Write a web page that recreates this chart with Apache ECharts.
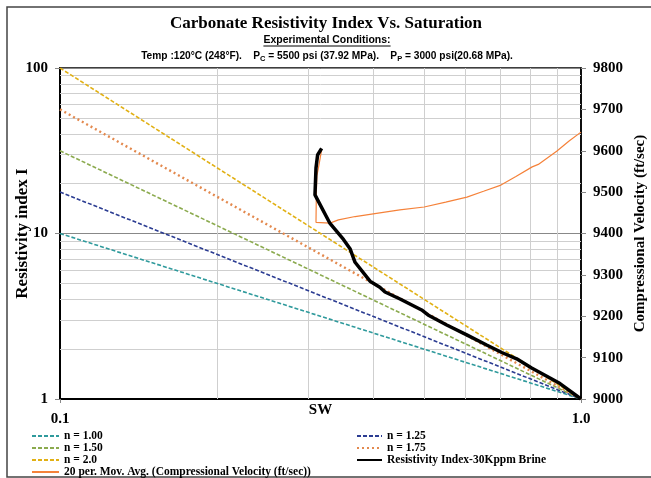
<!DOCTYPE html>
<html>
<head>
<meta charset="utf-8">
<script src="https://cdn.jsdelivr.net/npm/echarts@6/dist/echarts.min.js"></script>
<style>html,body{margin:0;padding:0;background:#fff}#c{width:651px;height:478px}</style>
</head>
<body>
<div id="c"></div>
<script>
// ---- data ----
var swEnds = [0.1, 1.0];
var n100 = [10, 1];
var n125 = [17.8, 1];
var n150 = [31.6, 1];
var n175 = [56.2, 1];
var n200 = [100, 1];
var riSw = [0.3178, 0.3122, 0.3100, 0.3086, 0.3298, 0.350, 0.3603, 0.3684, 0.3936, 0.411, 0.4206, 0.4494, 0.4945, 0.5085, 0.5524, 0.6035, 0.659, 0.7046, 0.7525, 0.804, 0.872, 0.9113, 1.0];
var riI  = [32.7, 29.8, 24.9, 17.1, 11.5, 9.2, 8.1, 6.7, 5.15, 4.74, 4.43, 4.02, 3.45, 3.22, 2.80, 2.44, 2.12, 1.91, 1.75, 1.54, 1.34, 1.24, 1.0];
var velSw = [1.0, 0.95, 0.898, 0.828, 0.806, 0.75, 0.702, 0.65, 0.604, 0.55, 0.5, 0.449, 0.411, 0.3685, 0.3423, 0.3298, 0.31, 0.3105, 0.3112, 0.3133, 0.3178];
var velV  = [9645, 9624, 9599, 9567, 9561, 9538, 9517, 9502, 9488, 9476, 9464, 9457, 9450, 9441, 9433, 9425, 9427, 9501, 9540, 9558, 9602];
var xGrid = [0.2, 0.3, 0.4, 0.5, 0.6, 0.7, 0.8, 0.9];
var yGrid = [2, 3, 4, 5, 6, 7, 8, 9, 20, 30, 40, 50, 60, 70, 80, 90];
var velTicks = [9000, 9800, 100];

function zip(a, b) { return a.map(function (v, i) { return [v, b[i]]; }); }

var serif = 'Liberation Serif';
var chart = echarts.init(document.getElementById('c'));

var mk = [];
xGrid.forEach(function (v) { mk.push({ xAxis: v }); });
yGrid.forEach(function (v) { mk.push({ yAxis: v }); });

function nLine(name, ys, color, dash, width) {
  return {
    name: name, type: 'line', data: zip(swEnds, ys), symbol: 'none', z: 3,
    lineStyle: { color: color, width: width || 1.6, type: dash, cap: 'butt' },
    itemStyle: { color: color }
  };
}

var legendText = { fontFamily: serif, fontWeight: 'bold', fontSize: 11.5, color: '#000', lineHeight: 12 };

var option = {
  animation: false,
  backgroundColor: '#fff',
  grid: { left: 60, right: 70, top: 68, bottom: 79, show: true, borderColor: '#000', borderWidth: 1.5, backgroundColor: 'transparent', containLabel: false, outerBoundsMode: 'none' },
  xAxis: {
    type: 'log', logBase: 10, min: 0.1, max: 1,
    name: 'SW', nameLocation: 'middle', nameGap: 4, nameMoveOverlap: false,
    nameTextStyle: { fontFamily: serif, fontWeight: 'bold', fontSize: 15, color: '#000', verticalAlign: 'top' },
    axisLine: { lineStyle: { color: '#000', width: 2 } },
    axisTick: { show: true, length: 4, lineStyle: { color: '#888' } },
    axisLabel: { margin: 13, fontFamily: serif, fontWeight: 'bold', fontSize: 15, color: '#000',
      formatter: function (v) { return v >= 1 ? '1.0' : '0.1'; } },
    splitLine: { show: false }
  },
  yAxis: [{
    type: 'log', logBase: 10, min: 1, max: 100,
    name: 'Resistivity index I', nameLocation: 'middle', nameGap: 29, nameMoveOverlap: false,
    nameTextStyle: { fontFamily: serif, fontWeight: 'bold', fontSize: 17, color: '#000' },
    axisLine: { lineStyle: { color: '#000', width: 2 } },
    axisTick: { show: true, length: 5, lineStyle: { color: '#888' } },
    axisLabel: { margin: 12, fontFamily: serif, fontWeight: 'bold', fontSize: 15, color: '#000' },
    splitLine: { show: true, lineStyle: { color: '#888', width: 1 } }
  }, {
    type: 'value', position: 'right', min: velTicks[0], max: velTicks[1], interval: velTicks[2],
    name: 'Compressional Velocity (ft/sec)', nameLocation: 'middle', nameGap: 52, nameMoveOverlap: false,
    nameTextStyle: { fontFamily: serif, fontWeight: 'bold', fontSize: 15, color: '#000' },
    axisLine: { show: true, lineStyle: { color: '#000', width: 1.5 } },
    axisTick: { show: true, length: 5, lineStyle: { color: '#888' } },
    axisLabel: { margin: 12, fontFamily: serif, fontWeight: 'bold', fontSize: 15, color: '#000',
      formatter: function (v) { return String(v); } },
    splitLine: { show: false }
  }],
  legend: [{
    orient: 'vertical', left: 31, top: 430, itemWidth: 27, itemHeight: 8, itemGap: 0,
    itemStyle: { opacity: 0 }, textStyle: legendText, padding: 0,
    data: ['n = 1.00', 'n = 1.50', 'n = 2.0', '20 per. Mov. Avg. (Compressional Velocity (ft/sec))']
  }, {
    orient: 'vertical', left: 356, top: 430, itemWidth: 25, itemHeight: 8, itemGap: 0,
    itemStyle: { opacity: 0 }, textStyle: legendText, padding: 0,
    data: ['n = 1.25', 'n = 1.75', 'Resistivity Index-30Kppm Brine']
  }],
  series: [
    {
      name: 'grid', type: 'line', data: zip(swEnds, [1, 1]), symbol: 'none', silent: true, z: 1,
      lineStyle: { opacity: 0 },
      markLine: { silent: true, symbol: 'none', z: 1, label: { show: false },
        lineStyle: { color: '#cfcfcf', width: 1, type: 'solid' }, emphasis: { disabled: true }, data: mk }
    },
    nLine('n = 1.00', n100, '#2F9A9C', [4, 2]),
    nLine('n = 1.25', n125, '#2B3C92', [4, 2]),
    nLine('n = 1.50', n150, '#8BAA4E', [4, 2]),
    nLine('n = 1.75', n175, '#E3894E', [2, 3], 2.4),
    nLine('n = 2.0', n200, '#E1B014', [4, 2]),
    {
      name: 'Resistivity Index-30Kppm Brine', type: 'line', data: zip(riSw, riI), symbol: 'none', z: 5,
      lineStyle: { color: '#000', width: 3.5 }, itemStyle: { color: '#000' }
    },
    {
      name: '20 per. Mov. Avg. (Compressional Velocity (ft/sec))', type: 'line', yAxisIndex: 1,
      data: zip(velSw, velV), symbol: 'none', z: 4,
      lineStyle: { color: '#F5823A', width: 1.2 }, itemStyle: { color: '#F5823A' }
    }
  ],
  graphic: []
};

// titles
var cv = document.createElement('canvas').getContext('2d');
cv.font = 'bold 10.5px "Liberation Sans"';
var ecW = cv.measureText('Experimental Conditions:').width;

option.graphic = [
  { type: 'rect', shape: { x: 7, y: 7, width: 700, height: 470 }, style: { fill: 'none', stroke: '#444', lineWidth: 1.5 }, silent: true, z: 0 },
  { type: 'text', x: 326, y: 24, style: { text: 'Carbonate Resistivity Index Vs. Saturation', fontFamily: serif, fontWeight: 'bold', fontSize: 17, fill: '#000', textAlign: 'center', textVerticalAlign: 'middle' } },
  { type: 'text', x: 327, y: 40, style: { text: 'Experimental Conditions:', fontFamily: 'Liberation Sans', fontWeight: 'bold', fontSize: 10.5, fill: '#000', textAlign: 'center', textVerticalAlign: 'middle' } },
  { type: 'line', shape: { x1: 327 - ecW / 2, y1: 46, x2: 327 + ecW / 2, y2: 46 }, style: { stroke: '#000', lineWidth: 1 } },
  { type: 'text', x: 327, y: 56, style: {
      text: 'Temp :120°C (248°F).    P{s|C} = 5500 psi (37.92 MPa).    P{s|P} = 3000 psi(20.68 MPa).',
      fontFamily: 'Liberation Sans', fontWeight: 'bold', fontSize: 10.2, fill: '#000', textAlign: 'center', textVerticalAlign: 'middle',
      rich: { s: { fontFamily: 'Liberation Sans', fontWeight: 'bold', fontSize: 7.5, padding: [5, 0, 0, 0], fill: '#000' } }
  } }
];

chart.setOption(option);
</script>
</body>
</html>
